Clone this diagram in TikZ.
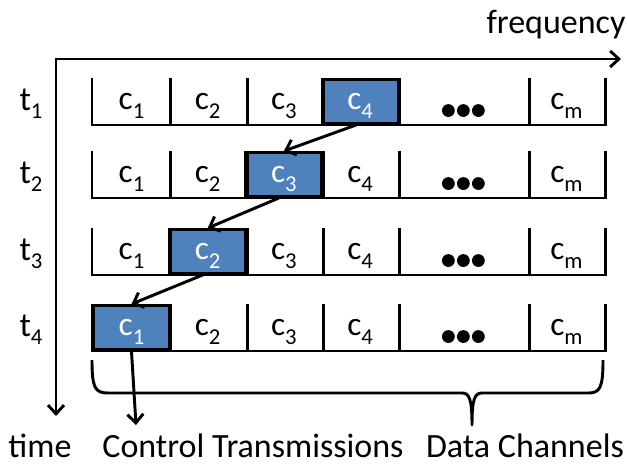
\documentclass[tikz,border=0pt]{standalone}
\usepackage{fontspec}
\setmainfont{Carlito}
\usetikzlibrary{arrows.meta,calc}
\definecolor{boxblue}{HTML}{4F81BD}
\newcommand\cellsub[1]{\raisebox{-6.5pt}{\fontsize{17}{17}\selectfont #1}}
\newcommand\tsub[1]{\raisebox{-6pt}{\fontsize{17}{17}\selectfont #1}}
\begin{document}
\begin{tikzpicture}[x=0.75pt,y=-0.75pt,line width=2.2pt,
  tip/.style={-{Straight Barb[length=6.5pt,width=12pt]}},
  cellbox/.style={anchor=south west,inner sep=0pt,minimum height=33pt,
    text height=12pt,text depth=0pt,font=\fontsize{25}{25}\selectfont},
  bluebox/.style={cellbox,draw=black,fill=boxblue,text=white},
  lab/.style={anchor=base,font=\fontsize{25.5}{25.5}\selectfont}]
\useasboundingbox (0,0) rectangle (627,467);

% axes
\coordinate (origin) at (56,59);
\coordinate (fend) at (621,59);
\coordinate (tend) at (56,416);
\draw[{Straight Barb[length=6.5pt,width=12pt]}-{Straight Barb[length=6.5pt,width=12pt]},line join=miter]
  (fend) -- (origin) -- (tend);

% rows
\foreach \r/\y/\b in {1/125/4,2/198/3,3/275/2,4/351/1}{
  \foreach \k/\xl in {1/92,2/168.2,3/244.4,4/320.6}{
    \ifnum\k=\b\relax
      \node[bluebox,minimum width=57pt] (r\r-\k) at (\xl,\y) {c\cellsub{\k}};
    \else
      \node[cellbox,minimum width=57pt] (r\r-\k) at (\xl,\y) {c\cellsub{\k}};
    \fi
  }
  \node[cellbox,minimum width=97.65pt] (r\r-5) at (396.8,\y) {};
  \node[cellbox,minimum width=57pt] (r\r-6) at (527,\y) {c\cellsub{m}};
  \draw (r\r-1.north west) -- (r\r-1.south west) -- (r\r-6.south east) -- (r\r-6.north east);
  \foreach \k in {1,...,5}{
    \draw (r\r-\k.north east) -- (r\r-\k.south east);
  }
  \foreach \dx in {-15,0,15}{
    \fill ($(r\r-5.center)+(\dx,9)$) circle[radius=4.8pt];
  }
  \node[lab] (t\r) at (31,\y-15) {t\tsub{\r}};
}

% transmission hops
\draw[tip] ($(r1-4.south)+(-4,0)$) -- (r2-3.north);
\draw[tip] ($(r2-3.south)+(-5,0)$) -- (r3-2.north);
\draw[tip] ($(r3-2.south)+(-5,0)$) -- (r4-1.north);
\coordinate (ctrlend) at (136,425);
\draw[tip] (r4-1.south) -- (ctrlend);

% brace
\draw[line join=round] (92,360) .. controls (92,388) and (95,393) .. (108,393) -- (462,393)
  .. controls (469,393) and (472,398) .. (472,425)
  .. controls (472,398) and (475,393) .. (482,393) -- (588,393)
  .. controls (600,393) and (603,388) .. (603,360);

% labels
\node[lab] (freq) at (556,34) {frequency};
\node[lab] (time) at (40,457) {time};
\node[lab] (ctrl) at (253,457) {Control Transmissions};
\node[lab] (data) at (525,457) {Data Channels};
\end{tikzpicture}
\end{document}
